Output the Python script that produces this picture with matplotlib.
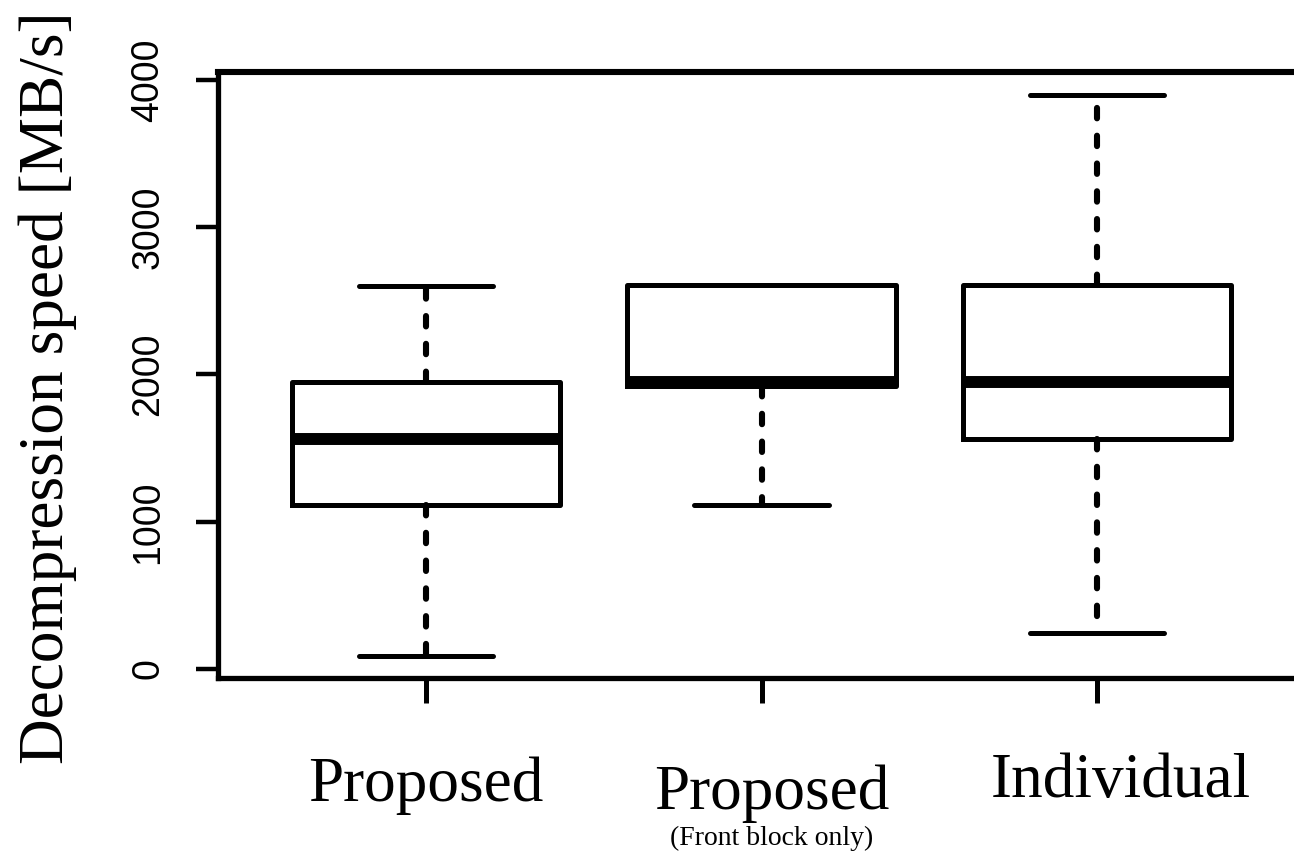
import matplotlib
matplotlib.use("Agg")
import matplotlib.pyplot as plt
import matplotlib.transforms as mtransforms

# box statistics (MB/s)
categories = ["Proposed", "Proposed", "Individual"]
sublabels = ["", "(Front block only)", ""]
whislo = [85, 1114, 244]
q1 = [1117, 1925, 1562]
med = [1562, 1946, 1946]
q3 = [1946, 2605, 2605]
whishi = [2601, 2605, 3900]
yticks = [0, 1000, 2000, 3000, 4000]

plt.rcParams["lines.scale_dashes"] = False

W, H = 1294, 852
fig = plt.figure(figsize=(W / 100, H / 100), dpi=100)
ax = fig.add_axes([218 / W, 1 - 678 / H, (1305 - 218) / W, (678 - 72) / H])

stats = []
for i in range(len(categories)):
    stats.append(dict(whislo=whislo[i], q1=q1[i], med=med[i], q3=q3[i],
                      whishi=whishi[i], fliers=[], label=categories[i]))

positions = list(range(1, len(categories) + 1))
ax.bxp(stats, positions=positions, widths=0.8, showfliers=False,
       boxprops=dict(color="black", linewidth=3.6),
       medianprops=dict(color="black", linewidth=8.6, solid_capstyle="butt"),
       whiskerprops=dict(color="black", linewidth=4.4,
                         linestyle=(0, (7.5, 12.5)), dash_capstyle="round"),
       capprops=dict(color="black", linewidth=3.6, solid_capstyle="round"))

ax.set_xlim(0.38, 3.62)
ax.set_ylim(-61, 4054)

for side in ["top", "bottom", "left", "right"]:
    ax.spines[side].set_linewidth(3.8)
ax.spines["top"].set_linewidth(4.4)

ax.set_yticks(yticks)
ax.set_yticklabels([str(v) for v in yticks], rotation=90, va="center",
                   fontfamily="Liberation Sans", fontsize=27)
ax.tick_params(axis="y", length=16, width=3.2, pad=21)
ax.set_xticks(positions)
ax.set_xticklabels([])
ax.tick_params(axis="x", length=18, width=3.6)

# category labels placed under the axis
label_dx = [0.0, 0.03, 0.07]
label_base = [801, 809, 797]
trans = mtransforms.blended_transform_factory(ax.transData, fig.transFigure)
for i, name in enumerate(categories):
    ax.text(positions[i] + label_dx[i], 1 - label_base[i] / H, name,
            transform=trans, ha="center", va="baseline",
            fontfamily="Liberation Serif", fontsize=45.5, clip_on=False)
    if sublabels[i]:
        ax.text(positions[i] + label_dx[i], 1 - 845 / H, sublabels[i],
                transform=trans, ha="center", va="baseline",
                fontfamily="Liberation Serif", fontsize=20, clip_on=False)

fig.text(48 / W, 1 - 388 / H, "Decompression speed [MB/s]", rotation=90,
         ha="center", va="center", fontfamily="Liberation Serif", fontsize=45.5)

fig.savefig("out.png", dpi=100)
